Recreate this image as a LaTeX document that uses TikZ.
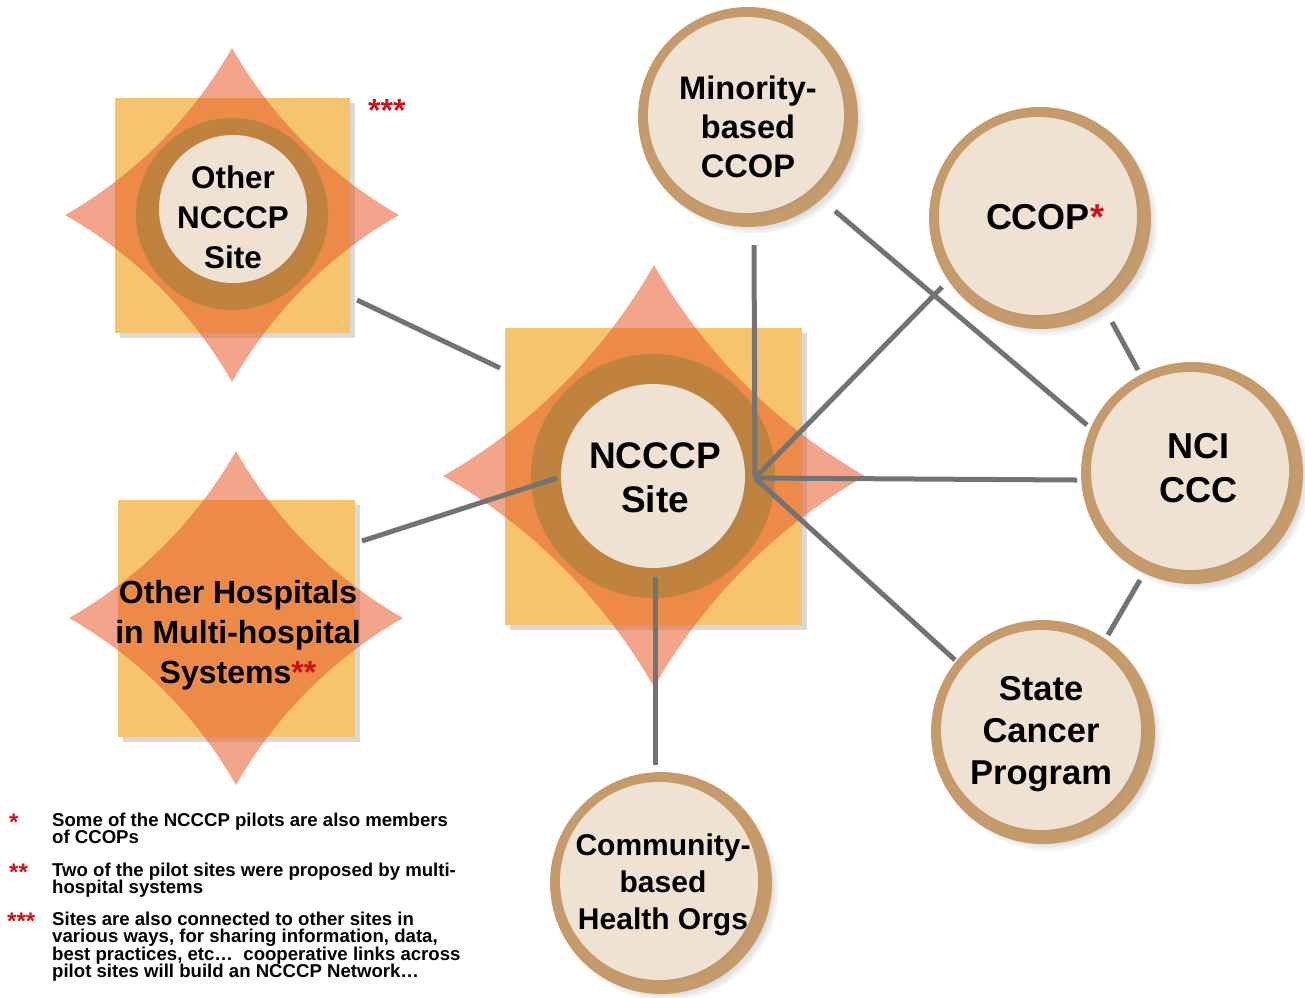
\documentclass[tikz,border=0pt]{standalone}
\usepackage{fontspec}
\setmainfont{Liberation Sans}
\usetikzlibrary{shadows,positioning}

\definecolor{sqfill}{HTML}{F7C46E}
\definecolor{burstfill}{HTML}{E75B2A}
\definecolor{ringdark}{HTML}{C0823F}
\definecolor{ringtan}{HTML}{C59B6B}
\definecolor{corefill}{HTML}{F0E2D3}
\definecolor{linkgray}{HTML}{737373}
\definecolor{astred}{HTML}{C8141B}

\newcommand{\redmark}[1]{\textcolor{astred}{#1}}
\newcommand{\keyfont}{\bfseries\fontsize{18.6}{17.2}\selectfont\lineskiplimit=-20pt\lineskip=0pt\relax}
% four-point star with hollow sides: centre x, centre y, tip distance
\newcommand{\burst}[3]{%
  \fill[burstfill,opacity=.55,shift={(#1,#2)}]
    (0,-#3) .. controls (.24*#3,-.58*#3) and (.58*#3,-.24*#3) .. (#3,0)
    .. controls (.58*#3,.24*#3) and (.24*#3,.58*#3) .. (0,#3)
    .. controls (-.24*#3,.58*#3) and (-.58*#3,.24*#3) .. (-#3,0)
    .. controls (-.58*#3,-.24*#3) and (-.24*#3,-.58*#3) .. cycle;}

\begin{document}
\begin{tikzpicture}[x=1pt,y=-1pt,
  sqbox/.style={fill=sqfill,minimum size=#1,inner sep=0pt,
    drop shadow={shadow xshift=5pt,shadow yshift=-5pt,opacity=.3}},
  darkring/.style={circle,fill=ringdark,minimum size=#1,inner sep=0pt},
  tanring/.style={circle,fill=ringtan,minimum size=#1,inner sep=0pt,
    circular drop shadow={shadow xshift=5pt,shadow yshift=-5pt,shadow scale=1.02,opacity=.5}},
  core/.style={circle,fill=corefill,minimum size=#1,inner sep=0pt,
    circular drop shadow={shadow xshift=3pt,shadow yshift=-3pt,shadow scale=1.01,opacity=.35}},
  lbl/.style 2 args={font=\bfseries\fontsize{#1}{#2}\selectfont,align=center,inner sep=0pt},
  link/.style={draw=linkgray,line width=5pt},
  keytext/.style={font=\keyfont,align=left,inner sep=0pt,anchor=north west},
  keymark/.style={font=\bfseries\fontsize{24}{24}\selectfont,text=astred,inner sep=0pt,anchor=base west}]
\useasboundingbox (0,0) rectangle (1305,997);

% other NCCCP site
\node[sqbox=235pt] (onsq) at (232,215) {};
\burst{232}{215}{167}
\node[darkring=192pt] (onring) at (232,214) {};
\node[core=148pt] (oncore) at (233,209) {};
\node[lbl={31.4}{40}] (ontxt) at (233,217) {Other\\NCCCP\\Site};
\node[anchor=base west,inner sep=0pt,text=astred,font=\bfseries\fontsize{32}{32}\selectfont] (onmark) at (368,121) {***};

% other hospitals
\node[sqbox=237pt] (ohsq) at (236,618) {};
\burst{236}{618}{167}
\node[lbl={32}{40}] (ohtxt) at (238,635) {Other Hospitals\\in Multi-hospital\\Systems\redmark{**}};

% NCCCP site
\node[sqbox=297pt] (ctrsq) at (653,476) {};
\burst{654}{476}{211}
\node[darkring=244pt] (ctrring) at (653,476) {};
\node[core=184pt] (ctrcore) at (653,476) {};
\node[lbl={37}{44}] (ctrtxt) at (655,478) {NCCCP\\Site};

% partners
\node[tanring=220pt] (minring) at (748,117) {};
\node[core=196pt] (mincore) at ([shift={(-2,-2)}]minring) {};
\node[lbl={32.6}{39}] (mintxt) at (748,127) {Minority-\\based\\CCOP};

\node[tanring=222pt] (ccopring) at (1040,218) {};
\node[core=198pt] (ccopcore) at ([shift={(-2,-2)}]ccopring) {};
\node[lbl={36}{44}] (ccoptxt) at (1045,217) {CCOP\redmark{*}};

\node[tanring=222pt] (nciring) at (1192,473) {};
\node[core=198pt] (ncicore) at ([shift={(-2,-2)}]nciring) {};
\node[lbl={36}{44}] (ncitxt) at (1198,468) {NCI\\CCC};

\node[tanring=224pt] (statering) at (1043,732) {};
\node[core=200pt] (statecore) at ([shift={(-2,-2)}]statering) {};
\node[lbl={34.5}{42}] (statetxt) at (1041,734) {State\\Cancer\\Program};

\node[tanring=222pt] (commring) at (661,883) {};
\node[core=198pt] (commcore) at ([shift={(-2,-2)}]commring) {};
\node[lbl={30}{37}] (commtxt) at (663,885) {Community-\\based\\Health Orgs};

% link ends
\coordinate (onlink) at (357,300);
\coordinate (ctrlinkon) at (500,368);
\coordinate (ohlink) at (362,541);
\coordinate (ctrlinkoh) at (557,478);
\coordinate (hub) at (755,478);
\coordinate (ctrfoot) at (655,577);
\coordinate (commtop) at (655,765);
\coordinate (minfoot) at (754,245);
\coordinate (minside) at (835,211);
\coordinate (ccopfoot) at (942,287);
\coordinate (ccopside) at (1112,322);
\coordinate (ncitop) at (1138,370);
\coordinate (ncileft) at (1077,480);
\coordinate (ncidiag) at (1087,425);
\coordinate (ncibottom) at (1140,580);
\coordinate (statetop) at (1108,635);
\coordinate (stateleft) at (955,660);

\path[link]
(onlink) edge (ctrlinkon)
(ohlink) edge (ctrlinkoh)
(ctrfoot) edge (commtop)
(hub) edge (minfoot) edge (ccopfoot) edge (ncileft) edge (stateleft)
(minside) edge (ncidiag)
(ccopside) edge (ncitop)
(ncibottom) edge (statetop)
; %end path

% key
\node[keymark] (m1) at (9,830) {*};
\node[keytext] (k1) at (52,813) {Some of the NCCCP pilots are also members\\of CCOPs};
\node[keymark] (m2) at (9,880) {**};
\node[keytext] (k2) at (52,863) {Two of the pilot sites were proposed by multi-\\hospital systems};
\node[keymark] (m3) at (7,929) {***};
\node[keytext] (k3) at (52,912) {Sites are also connected to other sites in\\various ways, for sharing information, data,\\best practices, etc…\ \ cooperative links across\\pilot sites will build an NCCCP Network…};
\end{tikzpicture}
\end{document}
